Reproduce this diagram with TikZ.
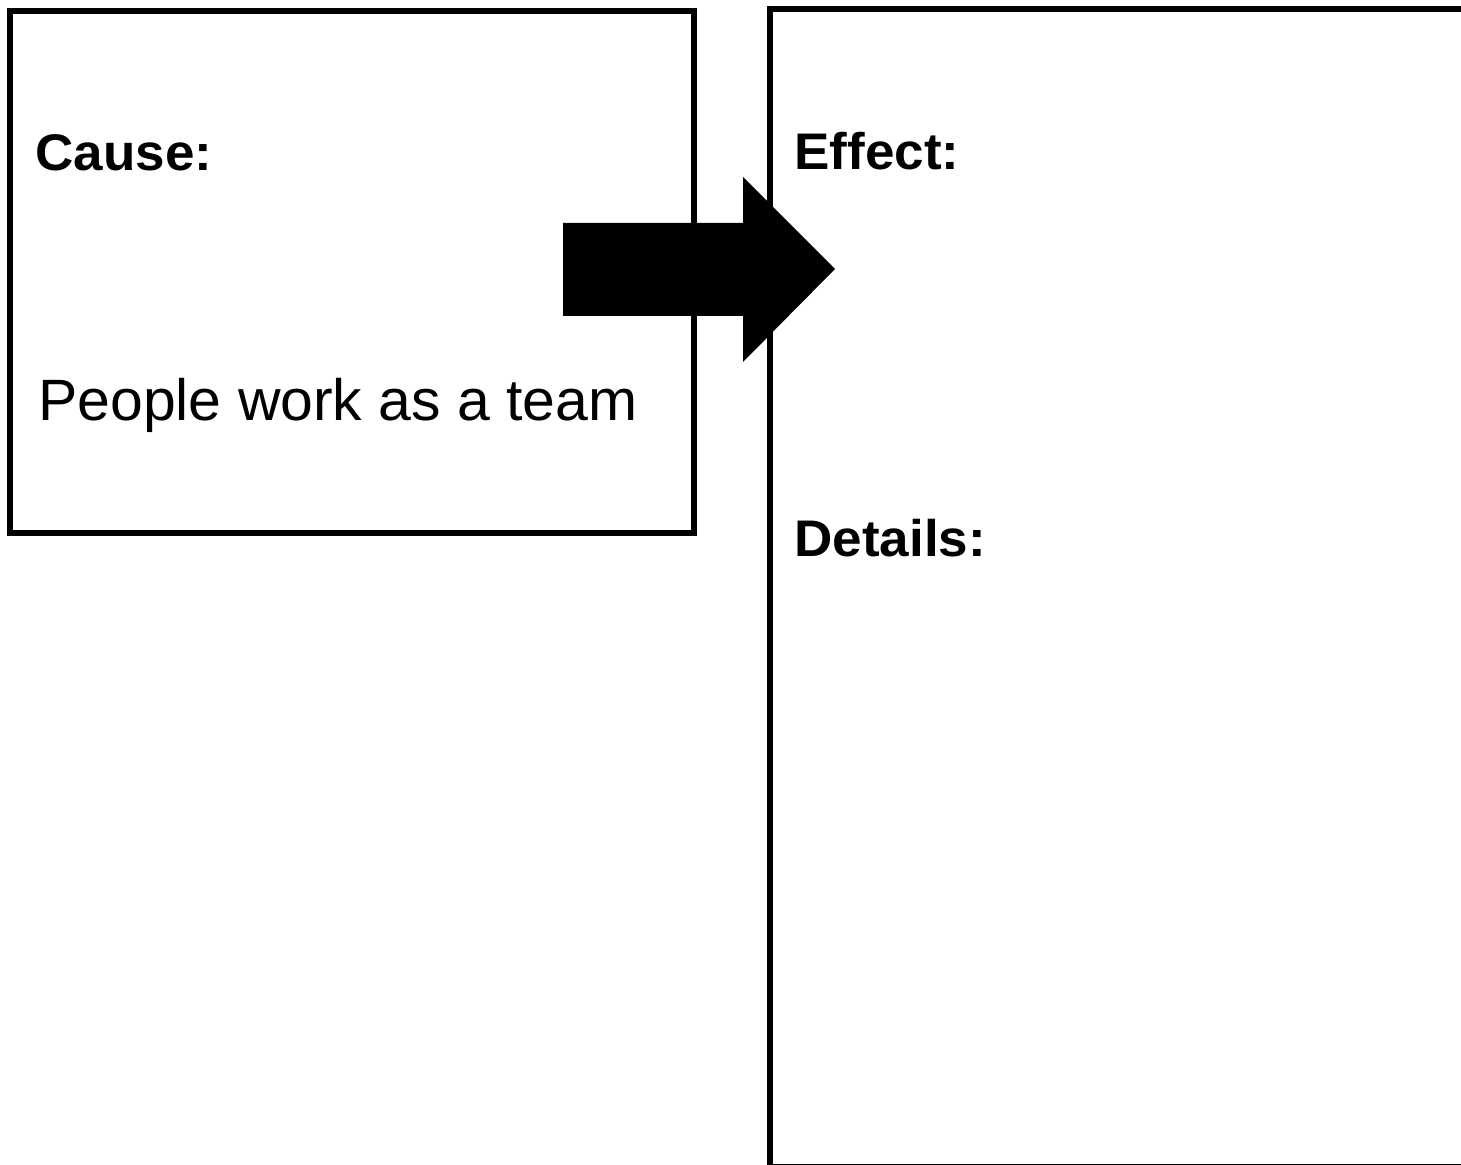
\documentclass[tikz,border=0pt]{standalone}
\usepackage{fontspec}
\setmainfont{Liberation Sans}
\usepackage{tikz}
\usetikzlibrary{calc}
\tikzset{
	boxline/.style={line width=0.12cm, color=black},
	headlabel/.style={anchor=base west, inner sep=0pt, xscale=1.03, font=\fontsize{29.3}{31}\selectfont\bfseries},
	bodylabel/.style={anchor=base west, inner sep=0pt, xscale=1.01, font=\fontsize{33.2}{35}\selectfont}
}

\begin{document}
\begin{tikzpicture}[x=0.02cm, y=-0.02cm]
		%%%%% START %%%%%
		\useasboundingbox (0, 0) rectangle (1461, 1165);
		\clip (0, 0) rectangle (1461, 1165);
		
		% cause box
		\draw[boxline] (10, 11) rectangle (694, 533);
		\node[headlabel] (cause) at (35, 171) {Cause:};
		\node[bodylabel] (team) at (38, 421) {People work as a team};
		
		% effect box, runs off the page
		\draw[boxline] (770, 9) rectangle (1475, 1167);
		\node[headlabel] (effect) at (794, 170) {Effect:};
		\node[headlabel] (details) at (794, 557) {Details:};
		
		% block arrow
		\coordinate (tail) at (563, 269);
		\coordinate (tip) at (835, 269);
		\fill[black] ($(tail)+(0, -46)$) -- ($(tail)+(180, -46)$) -- ($(tail)+(180, -92)$)
			-- (tip) -- ($(tail)+(180, 93)$) -- ($(tail)+(180, 47)$) -- ($(tail)+(0, 47)$) -- cycle;
		
		%%%%% END %%%%%
	\end{tikzpicture}
\end{document}
